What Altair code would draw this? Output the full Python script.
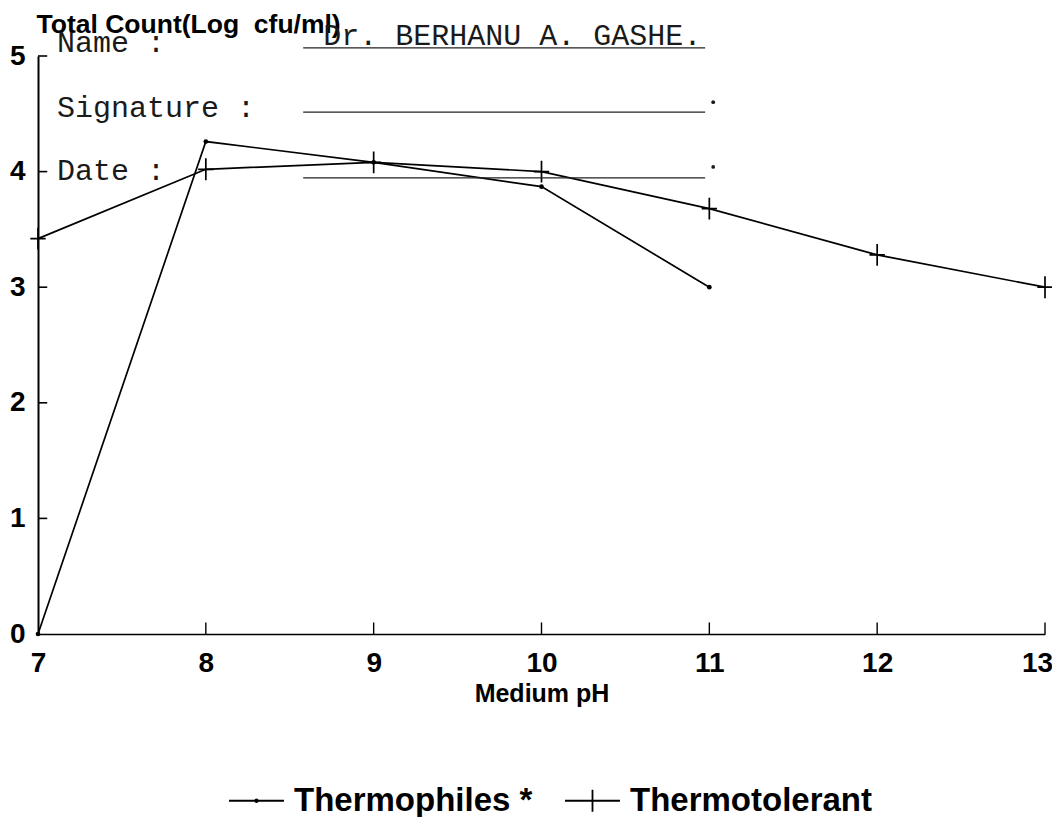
import altair as alt
import pandas as pd

# ---- data ----
ph_thermophiles = [7, 8, 9, 10, 11]
thermophiles = [0.0, 4.26, 4.08, 3.87, 3.0]
ph_thermotolerant = [7, 8, 9, 10, 11, 12, 13]
thermotolerant = [3.42, 4.02, 4.08, 4.0, 3.68, 3.28, 3.0]
series_names = ["Thermophiles *", "Thermotolerant"]
x_ticks = [7, 8, 9, 10, 11, 12, 13]
y_ticks = [0, 1, 2, 3, 4, 5]
inner_y_ticks = [1, 2, 3, 4, 5]
inner_x_ticks = [8, 9, 10, 11, 12, 13]

# typed form overlaid on the scan
form_labels = ["Name :", "Signature :", "Date :"]
form_label_y = [5.11, 4.55, 4.005]
form_line_y = [5.07, 4.515, 3.945]
form_dot_y = [4.60, 4.04]
signatory = ["Dr. BERHANU A. GASHE."]

SANS = "Liberation Sans, Arial, sans-serif"
MONO = "Liberation Mono, DejaVu Sans Mono, monospace"

df = pd.DataFrame({
    "pH": ph_thermophiles + ph_thermotolerant,
    "count": thermophiles + thermotolerant,
    "series": [series_names[0]] * len(ph_thermophiles)
    + [series_names[1]] * len(ph_thermotolerant),
})

xscale = alt.Scale(domain=[7, 13], nice=False, zero=False)
yscale = alt.Scale(domain=[0, 5], nice=False, zero=True)

x_enc = alt.X(
    "pH:Q", scale=xscale,
    axis=alt.Axis(values=x_ticks, ticks=False, grid=False, format="d",
                  labelFlush=False,
                  labelOffset={"condition": {"test": "datum.value === 13", "value": -8},
                               "value": 0},
                  domainColor="black", domainWidth=1.6,
                  labelFont=SANS, labelFontSize=28, labelFontWeight="bold",
                  labelColor="black", labelPadding=15,
                  title="Medium pH", titleFont=SANS, titleFontSize=25,
                  titleFontWeight="bold", titleColor="black",
                  titleY=67, titleBaseline="alphabetic"),
)
y_enc = alt.Y(
    "count:Q", scale=yscale,
    axis=alt.Axis(values=y_ticks, ticks=False, grid=False, format="d",
                  labelFlush=False,
                  domainColor="black", domainWidth=2,
                  labelFont=SANS, labelFontSize=28, labelFontWeight="bold",
                  labelColor="black", labelPadding=13,
                  title="Total Count(Log\u00a0 cfu/ml)", titleFont=SANS,
                  titleFontSize=26.5, titleFontWeight="bold", titleColor="black",
                  titleAngle=0, titleAlign="left", titleBaseline="alphabetic",
                  titleX=-2, titleY=-24),
)

base = alt.Chart(df)

lines = base.mark_line(color="black", strokeWidth=1.7).encode(
    x=x_enc, y=y_enc, detail="series:N", order="pH:Q"
)

dots = base.transform_filter(
    alt.datum.series == series_names[0]
).mark_point(shape="circle", filled=True, color="black", size=22, opacity=1).encode(
    x="pH:Q", y="count:Q"
)

cross_path = "M-0.7,0H0.7M0,-1V1"
crosses = base.transform_filter(
    alt.datum.series == series_names[1]
).mark_point(shape=cross_path, filled=False, color="black", size=480,
             strokeWidth=1.7, opacity=1).encode(
    x="pH:Q", y="count:Q"
)

dot_leg = "M-1,0H1M-0.05,0A0.05,0.05,0,1,0,0.05,0A0.05,0.05,0,1,0,-0.05,0Z"
cross_leg = "M-1,0H1M0,-0.4V0.4"
legend_layer = base.mark_point(filled=False, color="black", opacity=0).encode(
    x="pH:Q", y="count:Q",
    shape=alt.Shape(
        "series:N",
        scale=alt.Scale(domain=series_names, range=[dot_leg, cross_leg]),
        legend=alt.Legend(
            title=None, orient="none", legendX=190, legendY=716,
            direction="horizontal", symbolSize=3025, symbolStrokeWidth=1.8,
            symbolStrokeColor="black", symbolFillColor="black",
            symbolOpacity=1, labelFont=SANS, labelFontSize=33,
            labelFontWeight="bold", labelColor="black", labelOffset=9,
            labelLimit=500, columnPadding=28,
        ),
    ),
)

# inward ticks
ytick_df = pd.DataFrame({"y": inner_y_ticks})
yticks = alt.Chart(ytick_df).mark_rule(color="black", strokeWidth=1.6).encode(
    x=alt.datum(7), x2=alt.datum(7.055), y="y:Q"
)
xtick_df = pd.DataFrame({"x": inner_x_ticks})
xticks = alt.Chart(xtick_df).mark_rule(color="black", strokeWidth=1.4).encode(
    x="x:Q", y=alt.datum(0), y2=alt.datum(0.1)
)

# typed form overlay
form_df = pd.DataFrame({"label": form_labels, "y": form_label_y})
form_text = alt.Chart(form_df).mark_text(
    font=MONO, fontSize=30, align="left", baseline="middle", color="#1a1a1a"
).encode(x=alt.datum(7.113), y="y:Q", text="label:N")

sig_df = pd.DataFrame({"label": signatory, "y": [5.17]})
sig_text = alt.Chart(sig_df).mark_text(
    font=MONO, fontSize=30, align="left", baseline="middle", color="#1a1a1a"
).encode(x=alt.datum(8.70), y="y:Q", text="label:N")

fl_df = pd.DataFrame({"y": form_line_y})
form_lines = alt.Chart(fl_df).mark_rule(color="#222222", strokeWidth=1.2).encode(
    x=alt.datum(8.58), x2=alt.datum(10.975), y="y:Q"
)
fd_df = pd.DataFrame({"y": form_dot_y})
form_dots = alt.Chart(fd_df).mark_point(
    shape="circle", filled=True, color="#1a1a1a", size=14, opacity=1
).encode(x=alt.datum(11.023), y="y:Q")

chart = alt.layer(
    lines, dots, crosses, legend_layer, yticks, xticks,
    form_lines, form_dots, form_text, sig_text,
).properties(
    width=1007, height=578,
    autosize=alt.AutoSizeParams(type="none"),
    padding={"left": 30, "top": 48, "right": 7, "bottom": 183},
    background="white",
).configure_view(stroke=None)

chart.save("out.html", embed_options={"renderer": "svg", "actions": False})
